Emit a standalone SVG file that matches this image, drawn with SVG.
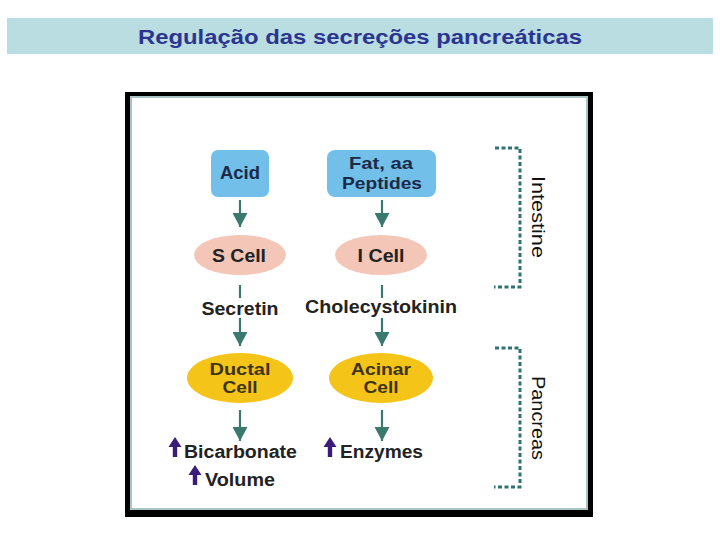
<svg xmlns="http://www.w3.org/2000/svg" width="720" height="540" viewBox="0 0 720 540">
<defs>
<style>
.t{font-family:"Liberation Sans",Arial,sans-serif;font-weight:bold;font-size:18px;text-anchor:middle}
.t2{font-size:17px}
.nav{fill:#1b2a48}
.dk{fill:#222}
.br{fill:#3d3318}
.box{fill:#72bfea}
.pink{fill:#f3c6b8}
.yel{fill:#f5c419}
.conn line{stroke:#3a7a6e;stroke-width:2.2}
.brk{fill:none;stroke:#2f7272;stroke-width:3;stroke-dasharray:4 2.5}
.side{font-family:"Liberation Sans",Arial,sans-serif;font-size:18px;fill:#111;text-anchor:middle}
.up{fill:#3a1d7a}
</style>
<marker id="ah" markerUnits="userSpaceOnUse" markerWidth="15" markerHeight="15" refX="14" refY="7.5" orient="auto">
<path d="M0,0 L14,7.5 L0,15 z" fill="#3a7a6e"/>
</marker>
<path id="uparr" d="M0,0 L6.5,10 L2.2,10 L2.2,20 L-2.2,20 L-2.2,10 L-6.5,10 z"/>
</defs>
<rect width="720" height="540" fill="#fff"/>
<g id="title">
<rect x="7" y="18" width="706" height="36" fill="#b9dde1"/>
<text x="360" y="44" font-family="'Liberation Sans',Arial,sans-serif" font-weight="bold" font-size="20" fill="#2b3590" text-anchor="middle" textLength="444" lengthAdjust="spacingAndGlyphs">Regulação das secreções pancreáticas</text>
</g>
<g id="frame">
<rect x="125" y="92" width="468" height="425" fill="#000"/>
<rect x="131" y="97" width="456" height="412" fill="#fff" stroke="#a9c4c4" stroke-width="2"/>
</g>
<g id="connectors" class="conn">
<line x1="240" y1="200" x2="240" y2="227" marker-end="url(#ah)"/>
<line x1="382" y1="200" x2="382" y2="227" marker-end="url(#ah)"/>
<line x1="240" y1="285" x2="240" y2="298"/>
<line x1="382" y1="285" x2="382" y2="298"/>
<line x1="240" y1="318" x2="240" y2="346" marker-end="url(#ah)"/>
<line x1="382" y1="318" x2="382" y2="346" marker-end="url(#ah)"/>
<line x1="240" y1="410" x2="240" y2="441" marker-end="url(#ah)"/>
<line x1="382" y1="410" x2="382" y2="441" marker-end="url(#ah)"/>
</g>
<g id="acid">
<rect class="box" x="211" y="150" width="58" height="47" rx="7"/>
<text class="t nav" x="240" y="179" textLength="40" lengthAdjust="spacingAndGlyphs">Acid</text>
</g>
<g id="fat">
<rect class="box" x="327" y="150" width="109" height="47" rx="8"/>
<text class="t t2 nav" x="381" y="169" textLength="64" lengthAdjust="spacingAndGlyphs">Fat, aa</text>
<text class="t t2 nav" x="382" y="189" textLength="80" lengthAdjust="spacingAndGlyphs">Peptides</text>
</g>
<g id="scell">
<ellipse class="pink" cx="240" cy="255" rx="46" ry="20"/>
<text class="t dk" x="239" y="262" textLength="54" lengthAdjust="spacingAndGlyphs">S Cell</text>
</g>
<g id="icell">
<ellipse class="pink" cx="381" cy="255" rx="46" ry="20"/>
<text class="t dk" x="381" y="262" textLength="47" lengthAdjust="spacingAndGlyphs">I Cell</text>
</g>
<g id="secretin">
<text class="t dk" x="240" y="315" textLength="77" lengthAdjust="spacingAndGlyphs">Secretin</text>
</g>
<g id="cck">
<text class="t dk" x="381" y="313" textLength="152" lengthAdjust="spacingAndGlyphs">Cholecystokinin</text>
</g>
<g id="ductal">
<ellipse class="yel" cx="240" cy="378" rx="53" ry="25"/>
<text class="t t2 br" x="240" y="375" textLength="61" lengthAdjust="spacingAndGlyphs">Ductal</text>
<text class="t t2 br" x="240" y="393" textLength="35" lengthAdjust="spacingAndGlyphs">Cell</text>
</g>
<g id="acinar">
<ellipse class="yel" cx="381" cy="378" rx="52" ry="25"/>
<text class="t t2 br" x="381" y="375" textLength="60" lengthAdjust="spacingAndGlyphs">Acinar</text>
<text class="t t2 br" x="381" y="393" textLength="35" lengthAdjust="spacingAndGlyphs">Cell</text>
</g>
<g id="bicarbonate">
<use href="#uparr" class="up" x="175" y="437"/>
<text class="t dk" x="240.5" y="458" textLength="113" lengthAdjust="spacingAndGlyphs">Bicarbonate</text>
</g>
<g id="volume">
<use href="#uparr" class="up" x="195" y="465"/>
<text class="t dk" x="240" y="486" textLength="70" lengthAdjust="spacingAndGlyphs">Volume</text>
</g>
<g id="enzymes">
<use href="#uparr" class="up" x="330" y="437"/>
<text class="t dk" x="381.5" y="458" textLength="83" lengthAdjust="spacingAndGlyphs">Enzymes</text>
</g>
<g id="intestine">
<path class="brk" d="M495,148 H520 V287 H494"/>
<text class="side" transform="translate(538,217) rotate(90)" x="0" y="6" textLength="82" lengthAdjust="spacingAndGlyphs">Intestine</text>
</g>
<g id="pancreas">
<path class="brk" d="M495,348 H520 V487 H494"/>
<text class="side" transform="translate(538,418) rotate(90)" x="0" y="6" textLength="84" lengthAdjust="spacingAndGlyphs">Pancreas</text>
</g>
</svg>
